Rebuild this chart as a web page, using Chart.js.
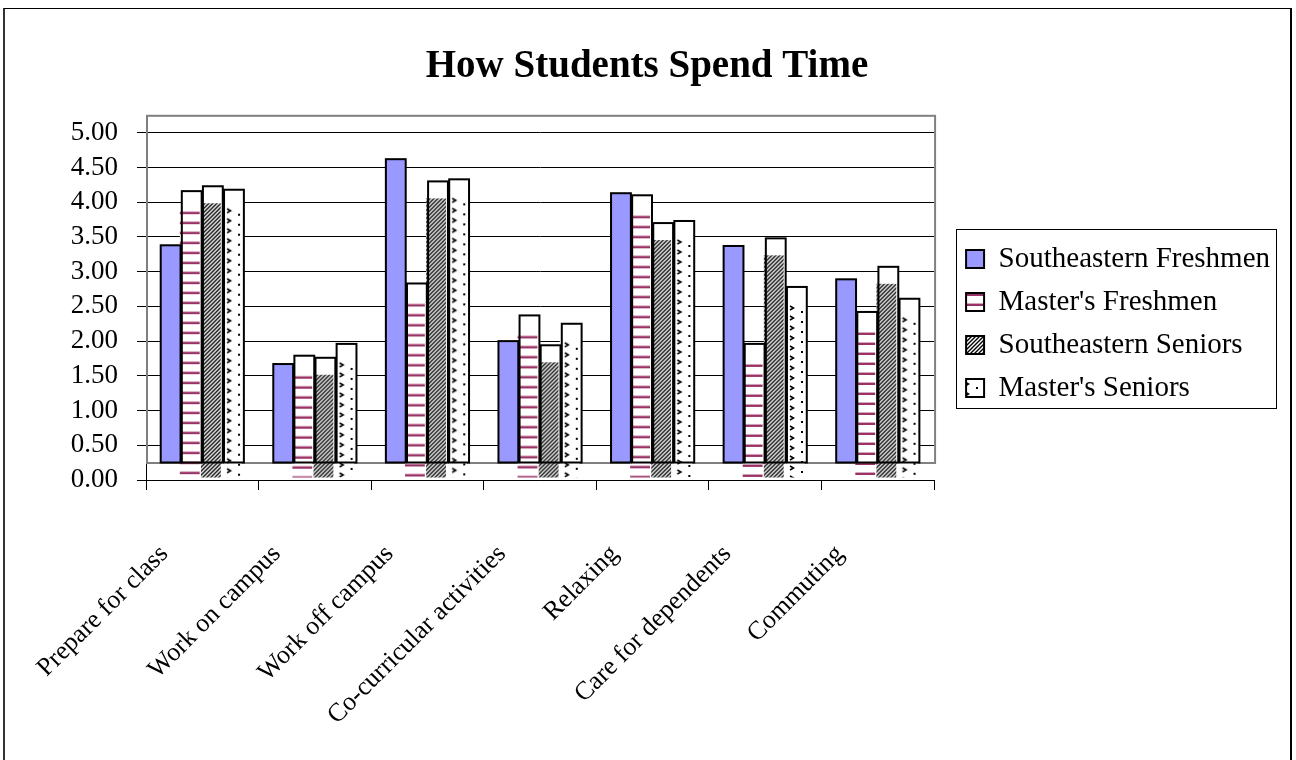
<!DOCTYPE html>
<html>
<head>
<meta charset="utf-8">
<script src="https://cdn.jsdelivr.net/npm/chart.js@4.4.1/dist/chart.umd.min.js"></script>
<style>
  html, body { margin: 0; padding: 0; background: #fff; overflow: hidden; }
  #frame {
    position: absolute; left: 3px; top: 8px; width: 1285px; height: 800px;
    border-left: 2px solid #333; border-top: 1px solid #000; border-right: 2px solid #000;
  }
  #c { position: absolute; left: 0; top: 0; }
</style>
</head>
<body>
<div id="frame"></div>
<canvas id="c" width="1296" height="760"></canvas>
<script>
// Data
const categories = ['Prepare for class', 'Work on campus', 'Work off campus', 'Co-curricular activities',
  'Relaxing', 'Care for dependents', 'Commuting'];
const seFreshmen = [3.38, 1.67, 4.62, 2.00, 4.13, 3.37, 2.89];
const mastersFreshmen = [4.16, 1.79, 2.83, 2.37, 4.10, 1.96, 2.42];
const seSeniors = [4.23, 1.76, 4.30, 1.94, 3.70, 3.48, 3.07];
const mastersSeniors = [4.18, 1.96, 4.33, 2.25, 3.73, 2.78, 2.61];

const serif = "'Liberation Serif', 'Times New Roman', serif";
const barShift = 17; // outline sits above its fill, like the original Excel render

const canvas = document.getElementById('c');
const ctx = canvas.getContext('2d');

// pattern tiles
function tile(w, h, draw) {
  const t = document.createElement('canvas');
  t.width = w; t.height = h;
  const g = t.getContext('2d');
  g.fillStyle = '#fff';
  g.fillRect(0, 0, w, h);
  draw(g);
  return t;
}
const stripeTile = tile(4, 10, g => {
  g.fillStyle = '#d6a6bd';
  g.fillRect(0, 3, 4, 1);
  g.fillStyle = '#993366';
  g.fillRect(0, 4, 4, 2);
});
const hatchTile = tile(4, 4, g => {
  g.strokeStyle = '#000';
  g.lineWidth = 1.4;
  g.beginPath();
  g.moveTo(0, 4); g.lineTo(4, 0);
  g.moveTo(-1, 1); g.lineTo(1, -1);
  g.moveTo(3, 5); g.lineTo(5, 3);
  g.stroke();
});
const dotTile = tile(20, 10, g => {
  g.strokeStyle = '#000';
  g.lineWidth = 1.5;
  g.beginPath();
  g.moveTo(5, 2); g.lineTo(8.5, 4); g.lineTo(5, 6);
  g.stroke();
  g.fillStyle = '#000';
  g.fillRect(16, 7, 2, 2);
});
const tiles = [null, stripeTile, hatchTile, dotTile];

const drawBars = {
  id: 'drawBars',
  beforeDatasetsDraw(chart) {
    const y = chart.scales.y;
    const a = chart.chartArea;
    const c = chart.ctx;
    c.save();
    c.strokeStyle = '#808080';
    c.lineWidth = 2;
    const top = y.getPixelForValue(5) - barShift;
    const bottom = y.getPixelForValue(0) - barShift;
    c.strokeRect(a.left + 1, top, a.right - a.left, bottom - top);
    c.restore();
  },
  beforeDatasetDraw(chart, args) {
    const c = chart.ctx;
    const ds = chart.data.datasets[args.index];
    args.meta.data.forEach(bar => {
      const { x, y, base, width } = bar.getProps(['x', 'y', 'base', 'width'], true);
      const left = x - width / 2;
      const bottom = base - barShift;
      c.save();
      if (!tiles[args.index]) {
        c.fillStyle = ds.backgroundColor;
        c.fillRect(left, y, width, bottom - y);
      } else {
        c.fillStyle = '#fff';
        c.fillRect(left, y, width, bottom - y);
        const pat = c.createPattern(tiles[args.index], 'repeat');
        pat.setTransform(new DOMMatrix().translateSelf(left - 2, y + barShift));
        c.fillStyle = pat;
        c.fillRect(left - 2, y + barShift, width, base - 2 - (y + barShift));
      }
      c.lineWidth = 2;
      c.strokeStyle = '#000';
      c.strokeRect(left, y, width, bottom - y);
      c.restore();
    });
    return false;
  }
};

const legendFrame = {
  id: 'legendFrame',
  afterDraw(chart) {
    const hb = chart.legend.legendHitBoxes;
    if (!hb || !hb.length) return;
    const last = hb[hb.length - 1];
    const left = hb[0].left - 10;
    const top = hb[0].top - 15;
    const right = Math.max(...hb.map(h => h.left + h.width)) + 6;
    const bottom = last.top + last.height + 6;
    const c = chart.ctx;
    c.save();
    c.strokeStyle = '#000';
    c.lineWidth = 1;
    c.strokeRect(Math.round(left) + 0.5, Math.round(top) + 0.5, Math.round(right - left), Math.round(bottom - top));
    c.restore();
  }
};

new Chart(ctx, {
  type: 'bar',
  data: {
    labels: categories,
    datasets: [
      { label: 'Southeastern Freshmen', data: seFreshmen, backgroundColor: '#9999ff', borderColor: '#000', borderWidth: 2 },
      { label: "Master's Freshmen", data: mastersFreshmen, backgroundColor: ctx.createPattern(stripeTile, 'repeat'), borderColor: '#000', borderWidth: 2 },
      { label: 'Southeastern Seniors', data: seSeniors, backgroundColor: ctx.createPattern(hatchTile, 'repeat'), borderColor: '#000', borderWidth: 2 },
      { label: "Master's Seniors", data: mastersSeniors, backgroundColor: ctx.createPattern(dotTile, 'repeat'), borderColor: '#000', borderWidth: 2 }
    ]
  },
  options: {
    responsive: false,
    animation: false,
    categoryPercentage: 0.75,
    barPercentage: 0.94,
    layout: { padding: { left: 14, right: 16, top: 0, bottom: 0 } },
    plugins: {
      title: {
        display: true,
        text: 'How Students Spend Time',
        color: '#000',
        font: { family: serif, size: 39, weight: 'bold' },
        padding: { top: 44, bottom: 42 }
      },
      legend: {
        position: 'right',
        fullSize: false,
        align: 'center',
        maxWidth: 400,
        title: { display: true, text: ' ', font: { size: 10 }, padding: 11 },
        labels: {
          color: '#000',
          font: { family: serif, size: 29 },
          boxWidth: 18,
          boxHeight: 18,
          padding: 14
        }
      },
      tooltip: { enabled: false }
    },
    scales: {
      x: {
        grid: { offset: true, drawOnChartArea: false, color: '#000', tickColor: '#000', tickLength: 10 },
        border: { display: true, color: '#000', width: 1 },
        ticks: {
          color: '#000',
          font: { family: serif, size: 26 },
          minRotation: 45,
          maxRotation: 45,
          autoSkip: false,
          padding: 49,
          labelOffset: -38
        },
        afterFit: s => { s.height = 280; }
      },
      y: {
        min: 0,
        max: 5,
        grid: { color: '#000', tickColor: '#000', tickLength: 9, lineWidth: 1 },
        border: { display: true, color: '#000', width: 1 },
        ticks: {
          stepSize: 0.5,
          autoSkip: false,
          color: '#000',
          font: { family: serif, size: 27 },
          padding: 19,
          callback: v => v.toFixed(2)
        },
        afterFit: s => { s.width = 132; }
      },
      gap: {
        type: 'linear',
        position: 'right',
        display: true,
        grid: { display: false },
        border: { display: false },
        ticks: { display: false },
        afterFit: s => { s.width = 18; }
      }
    }
  },
  plugins: [drawBars, legendFrame]
});
</script>
</body>
</html>
